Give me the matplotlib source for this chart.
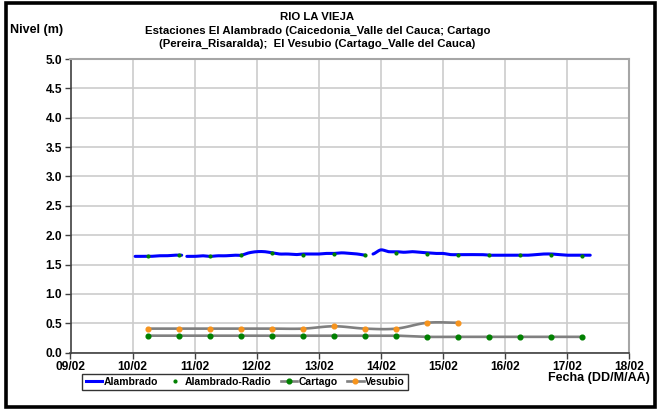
import matplotlib
matplotlib.use('Agg')
import matplotlib.pyplot as plt
import matplotlib.dates as mdates
import matplotlib.patches as mpatches
from matplotlib.lines import Line2D
import numpy as np
from datetime import datetime

plt.rcParams['font.family'] = ['Liberation Sans', 'DejaVu Sans']
plt.rcParams['font.weight'] = 'bold'

# ---------------- data ----------------
alambrado_time = [
    "10 01:00", "10 04:00", "10 07:00", "10 10:00", "10 13:00", "10 16:00", "10 19:00",
    "10 20:00",
    "10 21:00", "11 00:00", "11 03:00", "11 06:00", "11 09:00", "11 12:00", "11 15:00",
    "11 18:00", "11 21:00", "12 00:00", "12 03:00", "12 06:00", "12 09:00", "12 12:00",
    "12 15:00", "12 18:00", "12 21:00", "13 00:00", "13 03:00", "13 06:00", "13 09:00",
    "13 12:00", "13 15:00", "13 18:00",
    "13 19:30",
    "13 21:00", "14 00:00", "14 03:00", "14 06:00", "14 09:00", "14 12:00", "14 15:00",
    "14 18:00", "14 21:00", "15 00:00", "15 03:00", "15 06:00", "15 09:00", "15 12:00",
    "15 15:00", "15 18:00", "15 21:00", "16 00:00", "16 03:00", "16 06:00", "16 09:00",
    "16 12:00", "16 15:00", "16 18:00", "16 21:00", "17 00:00", "17 03:00", "17 06:00",
    "17 09:00",
]
alambrado_level = [
    1.64, 1.64, 1.64, 1.65, 1.65, 1.66, 1.66,
    np.nan,
    1.64, 1.64, 1.65, 1.64, 1.65, 1.65, 1.66,
    1.66, 1.70, 1.72, 1.72, 1.70, 1.68, 1.68,
    1.67, 1.68, 1.68, 1.68, 1.69, 1.69, 1.70,
    1.69, 1.68, 1.66,
    np.nan,
    1.68, 1.75, 1.72, 1.72, 1.71, 1.72, 1.71,
    1.70, 1.69, 1.69, 1.67, 1.67, 1.67, 1.67,
    1.67, 1.66, 1.66, 1.66, 1.66, 1.66, 1.66,
    1.67, 1.68, 1.68, 1.67, 1.66, 1.66, 1.66,
    1.66,
]

obs_time = ["10 06:00", "10 18:00", "11 06:00", "11 18:00", "12 06:00", "12 18:00",
            "13 06:00", "13 18:00", "14 06:00", "14 18:00", "15 06:00", "15 18:00",
            "16 06:00", "16 18:00", "17 06:00"]
radio_level = [1.64, 1.66, 1.64, 1.66, 1.69, 1.67, 1.68, 1.66, 1.70, 1.68,
               1.66, 1.66, 1.66, 1.66, 1.65]
cartago_level = [0.29, 0.29, 0.29, 0.29, 0.29, 0.29, 0.29, 0.29, 0.29,
                 0.27, 0.27, 0.27, 0.27, 0.27, 0.27]
vesubio_time = obs_time[:11]
vesubio_level = [0.41, 0.41, 0.41, 0.41, 0.41, 0.41, 0.45, 0.41, 0.41, 0.51, 0.51]

day_ticks = ["09", "10", "11", "12", "13", "14", "15", "16", "17", "18"]
y_ticks = [0.0, 0.5, 1.0, 1.5, 2.0, 2.5, 3.0, 3.5, 4.0, 4.5, 5.0]


def to_num(lst):
    return np.array([mdates.date2num(datetime.strptime("2011-02-" + s, "%Y-%m-%d %H:%M"))
                     for s in lst])


def smooth(x, y, n=12):
    """Catmull-Rom style smoothing of the drawn path (like Excel smoothed lines)."""
    x = np.asarray(x, float)
    y = np.asarray(y, float)
    xs, ys = [], []
    groups, cur = [], []
    for i in range(len(x)):
        if np.isnan(y[i]):
            if cur:
                groups.append(cur)
            cur = []
        else:
            cur.append(i)
    if cur:
        groups.append(cur)
    for g in groups:
        gx, gy = x[g], y[g]
        if len(g) == 1:
            xs += [gx[0], np.nan]; ys += [gy[0], np.nan]
            continue
        px = np.concatenate([[2 * gx[0] - gx[1]], gx, [2 * gx[-1] - gx[-2]]])
        py = np.concatenate([[gy[0]], gy, [gy[-1]]])
        for k in range(1, len(px) - 2):
            p0, p1, p2, p3 = [np.array([px[j], py[j]]) for j in (k - 1, k, k + 1, k + 2)]
            c1 = p1 + (p2 - p0) / 6
            c2 = p2 - (p3 - p1) / 6
            t = np.linspace(0, 1, n)[:, None]
            b = ((1 - t) ** 3) * p1 + 3 * ((1 - t) ** 2) * t * c1 + 3 * (1 - t) * t ** 2 * c2 + t ** 3 * p2
            xs += list(b[:, 0]); ys += list(b[:, 1])
        xs.append(np.nan); ys.append(np.nan)
    return np.array(xs), np.array(ys)


fig = plt.figure(figsize=(6.61, 4.11), dpi=100)
ax = fig.add_axes([70.5 / 661, 1 - 352.7 / 411, (629 - 70.5) / 661, (352.7 - 59) / 411])

at = to_num(alambrado_time)
ot = to_num(obs_time)
vt = to_num(vesubio_time)

BLUE = '#0000ff'
GREEN = '#008000'
ORANGE = '#f7941d'
GRAY = '#808080'

sx, sy = smooth(at, alambrado_level)
ax.plot(sx, sy, color=BLUE, lw=2.2, solid_capstyle='round', zorder=3)
ax.plot(ot, radio_level, ls='none', marker='o', ms=2.0, color=GREEN, zorder=4)

cx, cy = smooth(ot, cartago_level)
ax.plot(cx, cy, color=GRAY, lw=1.9, zorder=3)
ax.plot(ot, cartago_level, ls='none', marker='o', ms=3.4, color=GREEN, zorder=4)

vx, vy = smooth(vt, vesubio_level)
ax.plot(vx, vy, color=GRAY, lw=1.9, zorder=3)
ax.plot(vt, vesubio_level, ls='none', marker='o', ms=3.4, color=ORANGE, zorder=4)

xt = to_num([d + " 00:00" for d in day_ticks])
ax.set_xlim(xt[0], xt[-1])
ax.set_xticks(xt)
ax.set_xticklabels([d + "/02" for d in day_ticks])
ax.set_ylim(0, 5)
ax.set_yticks(y_ticks)
ax.set_yticklabels(["%.1f" % v for v in y_ticks])

ax.grid(True, color='#cccccc', lw=1.2)
ax.set_axisbelow(True)
for s in ('top', 'right'):
    ax.spines[s].set_color('#a6a6a6')
    ax.spines[s].set_linewidth(1.5)
for s in ('left', 'bottom'):
    ax.spines[s].set_color('#404040')
    ax.spines[s].set_linewidth(1.2)
ax.tick_params(axis='both', direction='out', length=4, width=1, color='#404040',
               labelsize=8.6, pad=2)
for lab in ax.get_xticklabels() + ax.get_yticklabels():
    lab.set_fontweight('bold')

tx = 0.48
fig.text(tx, 1 - 17 / 411, "RIO LA VIEJA", ha='center', va='center', fontsize=8.2, fontweight='bold')
fig.text(tx, 1 - 30.5 / 411, "Estaciones El Alambrado (Caicedonia_Valle del Cauca; Cartago",
         ha='center', va='center', fontsize=8.2, fontweight='bold')
fig.text(tx, 1 - 44 / 411, "(Pereira_Risaralda);  El Vesubio (Cartago_Valle del Cauca)",
         ha='center', va='center', fontsize=8.2, fontweight='bold')
fig.text(10 / 661, 1 - 30 / 411, "Nivel (m)", ha='left', va='center', fontsize=9, fontweight='bold')
fig.text(650 / 661, 1 - 378 / 411, "Fecha (DD/M/AA)", ha='right', va='center', fontsize=9,
         fontweight='bold')

handles = [
    Line2D([], [], color=BLUE, lw=2.2),
    Line2D([], [], ls='none', marker='o', ms=2.0, color=GREEN),
    Line2D([], [], color=GRAY, lw=1.9, marker='o', ms=3.4, mfc=GREEN, mec=GREEN),
    Line2D([], [], color=GRAY, lw=1.9, marker='o', ms=3.4, mfc=ORANGE, mec=ORANGE),
]
leg = fig.legend(handles, ["Alambrado", "Alambrado-Radio", "Cartago", "Vesubio"],
                 loc='center', bbox_to_anchor=(245 / 661, 1 - 382 / 411), ncol=4,
                 frameon=True, fancybox=False, edgecolor='black', handlelength=1.6,
                 handletextpad=0.1, columnspacing=0.9, borderpad=0.3,
                 prop={'size': 7.5, 'weight': 'bold'})
leg.get_frame().set_linewidth(1.0)

fig.patches.append(mpatches.Rectangle((6 / 661, 4 / 411), 649 / 661, 404 / 411,
                                      transform=fig.transFigure, fill=False,
                                      edgecolor='black', lw=2.6))

fig.savefig("out.png", dpi=100)
